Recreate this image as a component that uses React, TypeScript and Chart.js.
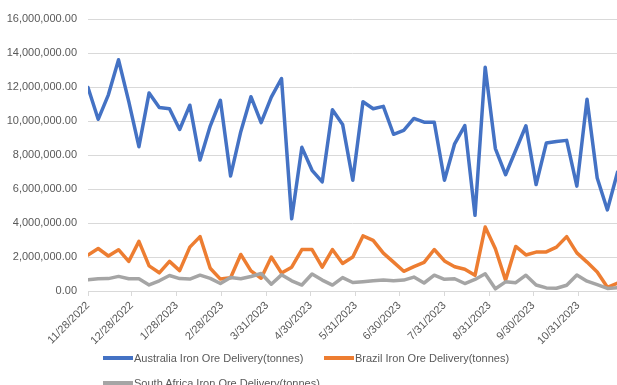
import React, { useEffect, useRef } from "react";
import { Chart, registerables } from "chart.js";

Chart.register(...registerables);

const weekDates: string[] = [
  "2022-11-28", "2022-12-05", "2022-12-12", "2022-12-19", "2022-12-26",
  "2023-01-02", "2023-01-09", "2023-01-16", "2023-01-23", "2023-01-30",
  "2023-02-06", "2023-02-13", "2023-02-20", "2023-02-27",
  "2023-03-06", "2023-03-13", "2023-03-20", "2023-03-27",
  "2023-04-03", "2023-04-10", "2023-04-17", "2023-04-24",
  "2023-05-01", "2023-05-08", "2023-05-15", "2023-05-22", "2023-05-29",
  "2023-06-05", "2023-06-12", "2023-06-19", "2023-06-26",
  "2023-07-03", "2023-07-10", "2023-07-17", "2023-07-24", "2023-07-31",
  "2023-08-07", "2023-08-14", "2023-08-21", "2023-08-28",
  "2023-09-04", "2023-09-11", "2023-09-18", "2023-09-25",
  "2023-10-02", "2023-10-09", "2023-10-16", "2023-10-23", "2023-10-30",
  "2023-11-06", "2023-11-13", "2023-11-20", "2023-11-27",
];

const australia: number[] = [
  11970000, 10100000, 11540000, 13600000, 11150000, 8490000, 11650000, 10800000, 10720000, 9500000,
  10930000, 7700000, 9700000, 11220000, 6770000, 9370000, 11430000, 9900000, 11400000, 12500000,
  4250000, 8450000, 7100000, 6420000, 10660000, 9800000, 6520000, 11130000, 10720000, 10860000,
  9220000, 9450000, 10150000, 9930000, 9930000, 6520000, 8660000, 9730000, 4450000, 13160000,
  8380000, 6840000, 8280000, 9720000, 6260000, 8700000, 8800000, 8860000, 6170000, 11280000,
  6650000, 4770000, 7000000,
];

const brazil: number[] = [
  2120000, 2500000, 2060000, 2430000, 1740000, 2920000, 1480000, 1070000, 1740000, 1200000,
  2580000, 3200000, 1340000, 700000, 780000, 2150000, 1180000, 750000, 2000000, 1060000,
  1400000, 2440000, 2440000, 1400000, 2440000, 1620000, 2000000, 3240000, 2980000, 2230000,
  1700000, 1160000, 1430000, 1680000, 2440000, 1770000, 1430000, 1280000, 920000, 3760000,
  2490000, 640000, 2620000, 2120000, 2290000, 2300000, 2580000, 3200000, 2240000, 1700000,
  1120000, 220000, 460000,
];

const southAfrica: number[] = [
  660000, 720000, 730000, 860000, 720000, 720000, 360000, 600000, 910000, 730000,
  700000, 930000, 740000, 440000, 800000, 720000, 850000, 1030000, 400000, 950000,
  600000, 350000, 1000000, 640000, 350000, 790000, 500000, 550000, 600000, 640000,
  600000, 640000, 820000, 470000, 930000, 690000, 720000, 440000, 680000, 1010000,
  130000, 540000, 490000, 930000, 350000, 180000, 160000, 340000, 940000, 580000,
  370000, 150000, 200000,
];

const tickDates: string[] = [
  "2022-11-28", "2022-12-28", "2023-01-28", "2023-02-28", "2023-03-31", "2023-04-30",
  "2023-05-31", "2023-06-30", "2023-07-31", "2023-08-31", "2023-09-30", "2023-10-31",
];
const tickLabels: string[] = [
  "11/28/2022", "12/28/2022", "1/28/2023", "2/28/2023", "3/31/2023", "4/30/2023",
  "5/31/2023", "6/30/2023", "7/31/2023", "8/31/2023", "9/30/2023", "10/31/2023",
];

const seriesNames: string[] = [
  "Australia Iron Ore Delivery(tonnes)",
  "Brazil Iron Ore Delivery(tonnes)",
  "South Africa Iron Ore Delivery(tonnes)",
];
const seriesColors: string[] = ["#4472C4", "#ED7D31", "#A5A5A5"];

const DAY = 86400000;
const start = Date.parse(weekDates[0] + "T00:00:00Z");
const toDay = (d: string) => (Date.parse(d + "T00:00:00Z") - start) / DAY;

const FONT = "'Liberation Sans', Arial, sans-serif";
const TEXT = "#595959";

export default function App() {
  const ref = useRef<HTMLCanvasElement | null>(null);

  useEffect(() => {
    if (!ref.current) return;
    const xs = weekDates.map(toDay);
    const mk = (vals: number[]) => vals.map((v, i) => ({ x: xs[i], y: v }));
    const tickDays = tickDates.map(toDay);
    const allSeries = [australia, brazil, southAfrica];

    const chart = new Chart(ref.current, {
      type: "line",
      data: {
        datasets: allSeries.map((vals, i) => ({
          label: seriesNames[i],
          data: mk(vals),
          borderColor: seriesColors[i],
          backgroundColor: seriesColors[i],
          borderWidth: 3.5,
          pointRadius: 0,
          tension: 0,
          borderJoinStyle: "round" as const,
          borderCapStyle: "round" as const,
          order: 3 - i,
        })),
      },
      options: {
        animation: false,
        responsive: false,
        maintainAspectRatio: false,
        layout: { padding: { top: 19, right: 0, bottom: 0, left: 0 } },
        plugins: { legend: { display: false }, tooltip: { enabled: false } },
        scales: {
          x: {
            type: "linear",
            min: 0,
            max: 363.6,
            afterBuildTicks: (scale: any) => {
              scale.ticks = tickDays.map((v) => ({ value: v }));
            },
            afterFit: (scale: any) => {
              scale.height = 94;
            },
            ticks: {
              autoSkip: false,
              minRotation: 45,
              maxRotation: 45,
              padding: 3,
              color: TEXT,
              font: { family: FONT, size: 11 },
              callback: (_v: any, idx: number) => tickLabels[idx] ?? "",
            },
            grid: {
              drawOnChartArea: false,
              drawTicks: true,
              tickLength: 5,
              color: "#D9D9D9",
            },
            border: { display: true, color: "#D9D9D9", width: 1 },
          },
          y: {
            min: 0,
            max: 16000000,
            afterFit: (scale: any) => {
              scale.width = 88;
            },
            ticks: {
              stepSize: 2000000,
              padding: 11,
              color: TEXT,
              font: { family: FONT, size: 11 },
              callback: (v: any) =>
                Number(v).toLocaleString("en-US", {
                  minimumFractionDigits: 2,
                  maximumFractionDigits: 2,
                }),
            },
            grid: { color: "#D9D9D9", drawTicks: false, lineWidth: 1 },
            border: { display: false },
          },
        },
      },
    });
    return () => chart.destroy();
  }, []);

  const legendItem = (i: number, left: number, cy: number) => (
    <div key={i} style={{ position: "absolute", left, top: cy - 7, height: 14, display: "flex", alignItems: "center", whiteSpace: "nowrap" }}>
      <div style={{ width: 30, height: 3.5, background: seriesColors[i], marginRight: 1 }} />
      <span style={{ fontFamily: FONT, fontSize: 11, color: TEXT, lineHeight: "14px" }}>{seriesNames[i]}</span>
    </div>
  );

  return (
    <div style={{ position: "fixed", left: 0, top: 0, width: 617, height: 385, overflow: "hidden", background: "#fff" }}>
      <canvas ref={ref} width={617} height={385} style={{ position: "absolute", left: 0, top: 0, width: 617, height: 385 }} />
      {legendItem(0, 103, 358)}
      {legendItem(1, 324, 358)}
      {legendItem(2, 103, 383)}
    </div>
  );
}
